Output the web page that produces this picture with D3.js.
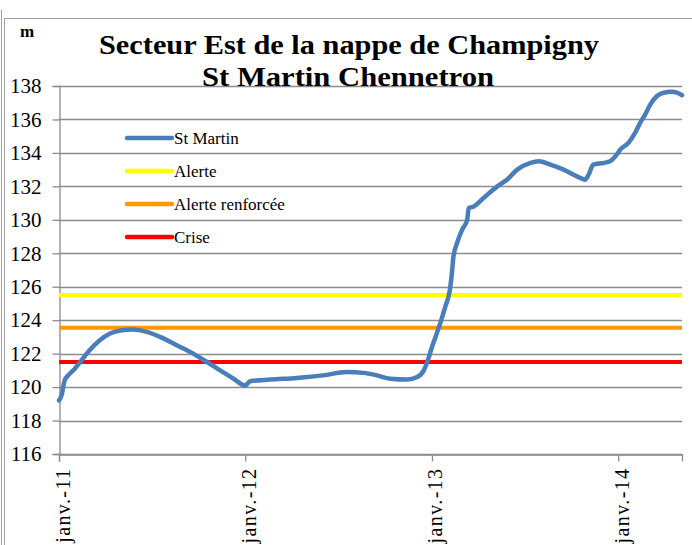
<!DOCTYPE html>
<html>
<head>
<meta charset="utf-8">
<script src="https://cdn.jsdelivr.net/npm/d3@7.9.0/dist/d3.min.js"></script>
<style>
  body { margin: 0; background: #fff; }
</style>
</head>
<body>
<div id="chart"></div>
<script>
// Niveau de la nappe, St Martin Chennetron (m)
const dates = [
  '2011-01-01', '2011-01-06', '2011-01-12', '2011-01-19', '2011-02-01', '2011-02-14',
  '2011-03-02', '2011-03-22', '2011-04-11', '2011-05-04', '2011-05-26', '2011-06-22',
  '2011-07-18', '2011-08-20', '2011-09-21', '2011-10-18', '2011-11-13', '2011-12-09',
  '2012-01-01', '2012-01-11', '2012-02-19', '2012-04-11', '2012-06-02', '2012-07-18',
  '2012-08-20', '2012-09-15', '2012-10-11', '2012-11-13', '2012-12-03', '2012-12-16',
  '2012-12-26', '2013-01-01', '2013-01-08', '2013-01-18', '2013-01-27', '2013-02-05',
  '2013-02-09', '2013-02-12', '2013-02-19', '2013-03-01', '2013-03-11', '2013-03-14',
  '2013-03-24', '2013-04-12', '2013-05-09', '2013-05-28', '2013-06-17', '2013-07-13',
  '2013-07-29', '2013-08-21', '2013-09-16', '2013-10-12', '2013-10-28', '2013-11-04',
  '2013-11-13', '2013-12-03', '2013-12-16', '2013-12-29', '2014-01-05', '2014-01-21',
  '2014-02-03', '2014-02-13', '2014-02-23', '2014-03-05', '2014-03-18', '2014-03-31',
  '2014-04-16', '2014-04-26', '2014-05-06'
];
const levels = [
  119.2, 119.5, 120.4, 120.7, 121.1, 121.6,
  122.2, 122.8, 123.2, 123.4, 123.45, 123.3,
  123.0, 122.5, 122.0, 121.5, 121.0, 120.5,
  120.1, 120.35, 120.45, 120.55, 120.7, 120.9,
  120.85, 120.7, 120.5, 120.45, 120.6, 121.0,
  121.8, 122.4, 123.0, 123.9, 124.8, 125.8,
  126.8, 127.8, 128.6, 129.4, 130.0, 130.7,
  130.8, 131.3, 132.0, 132.4, 133.0, 133.4,
  133.5, 133.3, 133.0, 132.6, 132.4, 132.7,
  133.3, 133.4, 133.5, 133.9, 134.2, 134.6,
  135.2, 135.8, 136.3, 136.9, 137.4, 137.6,
  137.65, 137.6, 137.45
];

// seuils
const seuilNames = ['Alerte', 'Alerte renforcée', 'Crise'];
const seuilValues = [125.5, 123.55, 121.5];
const seuilColors = ['#ffff00', '#ff9900', '#ff0000'];

const yTicks = d3.range(116, 139, 2);
const xTickDates = ['2011-01-01', '2012-01-01', '2013-01-01', '2014-01-01'];
const xTickLabels = ['janv.-11', 'janv.-12', 'janv.-13', 'janv.-14'];

const titleLines = ['Secteur Est de la nappe de Champigny', 'St Martin Chennetron'];
const titleWidths = [500, 292];

const width = 692;
const height = 545;
const margin = { top: 86, right: 10, bottom: 91, left: 59 };
const gridColor = '#8c8c8c';
const lineColor = '#4a7ebb';
const serif = "'Liberation Serif'";

const parse = d3.timeParse('%Y-%m-%d');
const series = dates.map((d, i) => ({ date: parse(d), value: levels[i] }));

const svg = d3.select('#chart')
  .append('svg')
  .attr('width', width)
  .attr('height', height);

// cadre
svg.append('line').attr('x1', 1.5).attr('x2', 1.5).attr('y1', 10).attr('y2', height)
  .attr('stroke', '#a0a0a0').attr('stroke-width', 1);
svg.append('line').attr('x1', 4.5).attr('x2', 4.5).attr('y1', 18).attr('y2', height)
  .attr('stroke', '#a0a0a0').attr('stroke-width', 1);
svg.append('line').attr('x1', 4.5).attr('x2', width).attr('y1', 18.5).attr('y2', 18.5)
  .attr('stroke', '#a0a0a0').attr('stroke-width', 1);

const xScale = d3.scaleTime()
  .domain([parse('2011-01-01'), parse('2014-05-06')])
  .range([margin.left, width - margin.right]);

const yScale = d3.scaleLinear()
  .domain([116, 138])
  .range([height - margin.bottom, margin.top]);

// grille
svg.append('g')
  .selectAll('line')
  .data(yTicks)
  .join('line')
  .attr('x1', margin.left)
  .attr('x2', width - margin.right)
  .attr('y1', (d) => Math.round(yScale(d)) + 0.5)
  .attr('y2', (d) => Math.round(yScale(d)) + 0.5)
  .attr('stroke', gridColor)
  .attr('stroke-width', 1.3);

// axe y
const yAxis = d3.axisLeft(yScale).tickValues(yTicks).tickSize(7).tickPadding(11);
const gy = svg.append('g')
  .attr('transform', `translate(${margin.left + 0.5},0)`)
  .call(yAxis);
gy.select('.domain').attr('stroke', gridColor).attr('stroke-width', 1.3);
gy.selectAll('.tick line').attr('stroke', gridColor).attr('stroke-width', 1.3);
gy.selectAll('.tick text')
  .attr('fill', '#000')
  .style('font-size', '21px')
  .style('font-family', serif);

// axe x
const xAxis = d3.axisBottom(xScale)
  .tickValues(xTickDates.map(parse))
  .tickSize(7)
  .tickFormat((d, i) => xTickLabels[i]);
const gx = svg.append('g')
  .attr('transform', `translate(0,${height - margin.bottom + 0.5})`)
  .call(xAxis);
gx.select('.domain').attr('stroke', gridColor).attr('stroke-width', 1.3);
gx.selectAll('.tick line').attr('stroke', gridColor).attr('stroke-width', 1.3);
gx.selectAll('.tick text')
  .attr('fill', '#000')
  .attr('text-anchor', 'end')
  .attr('transform', 'rotate(-90)')
  .attr('x', -13)
  .attr('y', 3)
  .attr('dy', '0.35em')
  .style('letter-spacing', '1.4px')
  .style('font-size', '20px')
  .style('font-family', serif);

// seuils
svg.append('g')
  .selectAll('line')
  .data(seuilValues)
  .join('line')
  .attr('x1', margin.left)
  .attr('x2', width - margin.right)
  .attr('y1', (d) => yScale(d))
  .attr('y2', (d) => yScale(d))
  .attr('stroke', (d, i) => seuilColors[i])
  .attr('stroke-width', 4);

// courbe
const line = d3.line()
  .x((d) => xScale(d.date))
  .y((d) => yScale(d.value))
  .curve(d3.curveMonotoneX);

svg.append('path')
  .datum(series)
  .attr('fill', 'none')
  .attr('stroke', lineColor)
  .attr('stroke-width', 4.5)
  .attr('stroke-linejoin', 'round')
  .attr('stroke-linecap', 'round')
  .attr('d', line);

// légende
const legendNames = ['St Martin', ...seuilNames];
const legendColors = [lineColor, ...seuilColors];
const legend = svg.append('g')
  .selectAll('g')
  .data(legendNames)
  .join('g')
  .attr('transform', (d, i) => `translate(127,${138 + i * 33})`);
legend.append('line')
  .attr('x1', 0).attr('x2', 45)
  .attr('stroke', (d, i) => legendColors[i])
  .attr('stroke-width', 4.5)
  .attr('stroke-linecap', 'round');
legend.append('text')
  .attr('x', 47)
  .attr('dy', '0.35em')
  .style('font-size', '17px')
  .style('font-family', serif)
  .text((d) => d);

// titre
svg.append('g')
  .selectAll('text')
  .data(titleLines)
  .join('text')
  .attr('x', (d, i) => (i === 0 ? 349 : 348))
  .attr('y', (d, i) => (i === 0 ? 54 : 86))
  .attr('text-anchor', 'middle')
  .attr('textLength', (d, i) => titleWidths[i])
  .attr('lengthAdjust', 'spacingAndGlyphs')
  .style('font-size', '28px')
  .style('font-weight', 'bold')
  .style('font-family', serif)
  .text((d) => d);

svg.append('text')
  .attr('x', 20)
  .attr('y', 37)
  .style('font-size', '17px')
  .style('font-weight', 'bold')
  .style('font-family', serif)
  .text('m');
</script>
</body>
</html>
